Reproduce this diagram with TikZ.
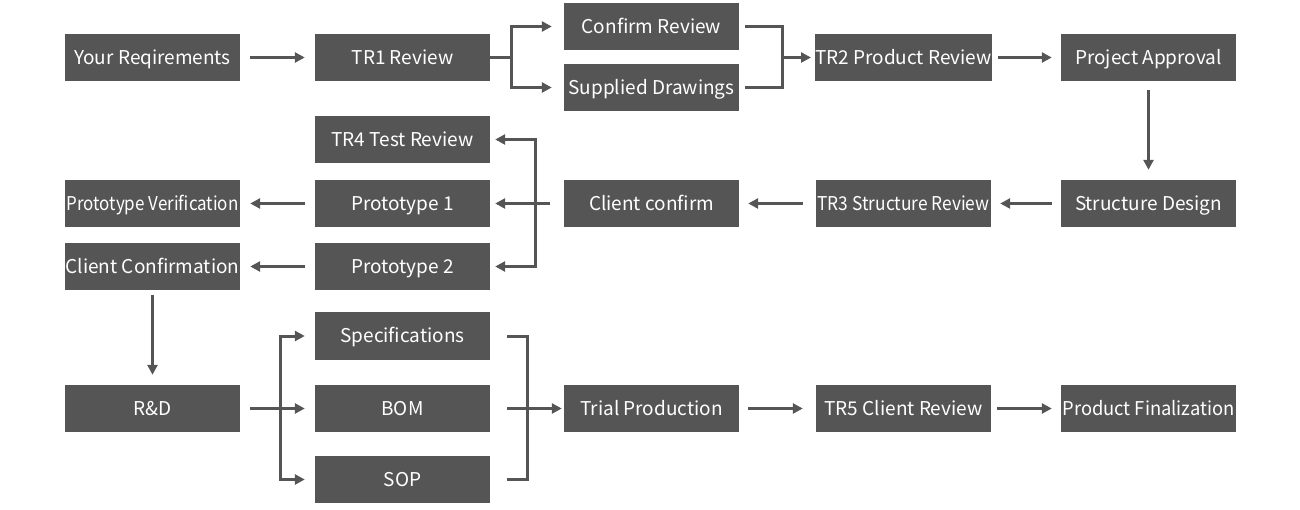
\documentclass[tikz,border=0pt]{standalone}
\usepackage{fontspec}
\setmainfont{Noto Sans CJK SC}
\usetikzlibrary{arrows.meta}
\definecolor{boxgray}{HTML}{555555}
\definecolor{linegray}{HTML}{555555}
\tikzset{
  box/.style={fill=boxgray, text=white, minimum width=175pt, minimum height=47pt, inner sep=0pt,
    text height=13.9pt, text depth=0pt, font=\fontsize{19}{21}\selectfont},
  conn/.style={draw=linegray, line width=3pt},
  arr/.style={conn, -{Triangle[length=10pt,width=10pt]}},
}
\newcommand{\fitw}[1]{\resizebox{172pt}{\height}{#1}}
\begin{document}
\begin{tikzpicture}[x=1pt,y=-1pt]
\useasboundingbox (0,0) rectangle (1300,510);
% row 1
\node[box] (req) at (152.5,57.5) {Your Reqirements};
\node[box] (tr1) at (402.5,57.5) {TR1 Review};
\node[box] (conf) at (651.5,26.5) {Confirm Review};
\node[box] (supp) at (651.5,87.5) {Supplied Drawings};
\node[box] (tr2) at (903.5,57.5) {TR2 Product Review};
\node[box] (appr) at (1148.5,57.5) {Project Approval};
% rows 2-4
\node[box] (tr4) at (402.5,139.5) {TR4 Test Review};
\node[box] (pver) at (152.5,203.5) {\fitw{Prototype Verification}};
\node[box] (p1) at (402.5,203.5) {Prototype 1};
\node[box] (cc) at (651.5,203.5) {Client confirm};
\node[box] (tr3) at (903.5,203.5) {\fitw{TR3 Structure Review}};
\node[box] (sd) at (1148.5,203.5) {Structure Design};
\node[box] (ccf) at (152.5,266.5) {Client Confirmation};
\node[box] (p2) at (402.5,266.5) {Prototype 2};
% row 5
\node[box] (spec) at (402.5,336) {Specifications};
\node[box] (rd) at (152.5,408.5) {R\&D};
\node[box] (bom) at (402.5,408.5) {BOM};
\node[box] (sop) at (402.5,479.5) {SOP};
\node[box] (trial) at (651.5,408.5) {Trial Production};
\node[box] (tr5) at (903.5,408.5) {TR5 Client Review};
\node[box] (fin) at (1148.5,408.5) {\fitw{Product Finalization}};
% coordinates
\coordinate (j1) at (511,57.5);
\coordinate (j2) at (782,57.5);
\coordinate (j3) at (535,203.5);
\coordinate (j4) at (280,408.5);
\coordinate (j5) at (527,408.5);
% connectors row 1
\draw[arr] ([xshift=10pt]req.east) -- ([xshift=-10pt]tr1.west);
\draw[conn] (tr1.east) -- (j1);
\draw[arr] (j1) |- ([xshift=-12pt]conf.west);
\draw[arr] (j1) |- ([xshift=-12pt]supp.west);
\draw[conn] ([xshift=6pt]conf.east) -| (j2);
\draw[conn] ([xshift=6pt]supp.east) -| (j2);
\draw[arr] (j2) -- ([xshift=-4pt]tr2.west);
\draw[arr] ([xshift=6pt]tr2.east) -- ([xshift=-9pt]appr.west);
\draw[arr] ([yshift=-9pt]appr.south) -- ([yshift=10pt]sd.north);
% row 3
\draw[arr] ([xshift=-9pt]sd.west) -- ([xshift=9pt]tr3.east);
\draw[arr] ([xshift=-13pt]tr3.west) -- ([xshift=9pt]cc.east);
\draw[conn] ([xshift=-14pt]cc.west) -- (j3);
\draw[arr] (j3) |- ([xshift=5pt]tr4.east);
\draw[arr] (j3) -- ([xshift=5pt]p1.east);
\draw[arr] (j3) |- ([xshift=5pt]p2.east);
\draw[arr] ([xshift=-10pt]p1.west) -- ([xshift=10pt]pver.east);
\draw[arr] ([xshift=-10pt]p2.west) -- ([xshift=10pt]ccf.east);
\draw[arr] ([yshift=-5pt]ccf.south) -- ([yshift=10pt]rd.north);
% row 5
\draw[conn] ([xshift=10pt]rd.east) -- (j4);
\draw[arr] (j4) |- ([xshift=-10pt]spec.west);
\draw[arr] (j4) -- ([xshift=-10pt]bom.west);
\draw[arr] (j4) |- ([xshift=-10pt]sop.west);
\draw[conn] ([xshift=17pt]spec.east) -| (j5);
\draw[conn] ([xshift=17pt]sop.east) -| (j5);
\draw[arr] ([xshift=17pt]bom.east) -- ([xshift=-2pt]trial.west);
\draw[arr] ([xshift=9pt]trial.east) -- ([xshift=-13pt]tr5.west);
\draw[arr] ([xshift=6pt]tr5.east) -- ([xshift=-9pt]fin.west);
\end{tikzpicture}
\end{document}
